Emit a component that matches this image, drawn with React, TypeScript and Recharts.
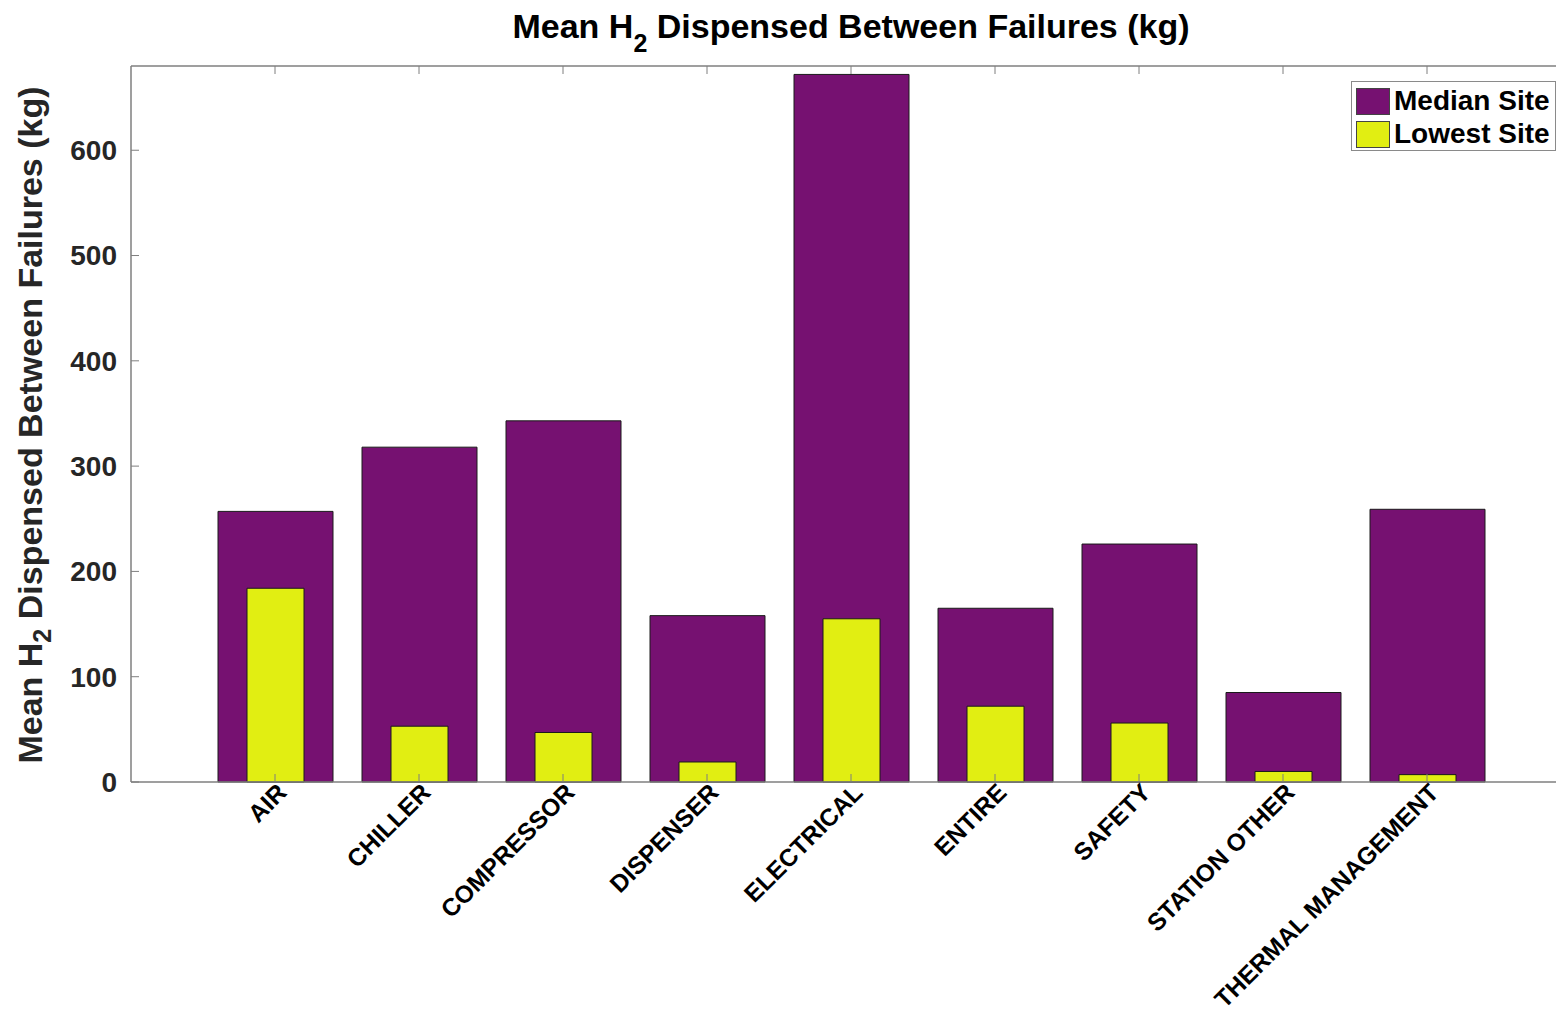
import React from "react";
import { Bar, BarChart, XAxis, YAxis } from "recharts";

const categories = [
  "AIR",
  "CHILLER",
  "COMPRESSOR",
  "DISPENSER",
  "ELECTRICAL",
  "ENTIRE",
  "SAFETY",
  "STATION OTHER",
  "THERMAL MANAGEMENT",
];
const medianSite = [257, 318, 343, 158, 672, 165, 226, 85, 259];
const lowestSite = [184, 53, 47, 19, 155, 72, 56, 10, 7];
const yTicks = [0, 100, 200, 300, 400, 500, 600];

const PURPLE = "#761171";
const YELLOW = "#e1ee12";
const AXIS = "#7f7f7f";
const FONT = "'Liberation Sans', Arial, sans-serif";

const data = categories.map((name, i) => ({
  name,
  median: medianSite[i],
  lowest: lowestSite[i],
}));

const series = [
  { key: "median", label: "Median Site", color: PURPLE },
  { key: "lowest", label: "Lowest Site", color: YELLOW },
];

function XTick(props: any) {
  const { x, y, payload } = props;
  const px = x + 7;
  const py = y - 2;
  return (
    <text
      x={px}
      y={py}
      transform={`rotate(-45 ${px} ${py})`}
      textAnchor="end"
      dy="0.35em"
      fontFamily={FONT}
      fontWeight="bold"
      fontSize={24.5}
      fill="#000"
    >
      {payload.value}
    </text>
  );
}

function YLabel() {
  return (
    <text
      x={30}
      y={425}
      transform="rotate(-90 30 425)"
      textAnchor="middle"
      dominantBaseline="central"
      fontFamily={FONT}
      fontWeight="bold"
      fontSize={34}
      fill="#262626"
    >
      Mean H
      <tspan fontSize={25} dy={12}>
        2
      </tspan>
      <tspan dy={-12}> Dispensed Between Failures (kg)</tspan>
    </text>
  );
}

export default function App() {
  return (
    <div
      style={{
        position: "absolute",
        left: 0,
        top: 0,
        width: 1556,
        height: 1013,
        overflow: "hidden",
        background: "#fff",
        fontFamily: FONT,
      }}
    >
      <div
        style={{
          position: "absolute",
          left: 0,
          width: 1702,
          top: 7,
          textAlign: "center",
          fontSize: 34,
          lineHeight: "38px",
          fontWeight: "bold",
          color: "#000",
          whiteSpace: "nowrap",
        }}
      >
        Mean H<sub style={{ fontSize: 25, verticalAlign: -14, lineHeight: 0 }}>2</sub> Dispensed Between
        Failures (kg)
      </div>
      <BarChart
        width={1580}
        height={1013}
        data={data}
        margin={{ top: 65, right: 9, bottom: 0, left: 0 }}
        barGap={0}
      >
        <XAxis
          xAxisId="top"
          orientation="top"
          dataKey="name"
          padding={{ left: 72, right: 72 }}
          height={1}
          interval={0}
          tickFormatter={() => ""}
          tickSize={-8}
          axisLine={{ stroke: AXIS, strokeWidth: 1.5 }}
          tickLine={{ stroke: AXIS }}
        />
        <XAxis
          xAxisId="median"
          dataKey="name"
          padding={{ left: 72, right: 72 }}
          height={231}
          interval={0}
          tickSize={-8}
          tickMargin={16}
          tick={<XTick />}
          axisLine={{ stroke: AXIS, strokeWidth: 1.5 }}
          tickLine={{ stroke: AXIS }}
        />
        <XAxis xAxisId="lowest" dataKey="name" padding={{ left: 72, right: 72 }} height={0} hide />
        <YAxis
          width={131}
          domain={[0, 680]}
          ticks={yTicks}
          interval={0}
          tickSize={-8}
          tickMargin={22}
          axisLine={{ stroke: AXIS, strokeWidth: 1.5 }}
          tickLine={{ stroke: AXIS }}
          tick={{ fontFamily: FONT, fontWeight: "bold", fontSize: 28, fill: "#262626" }}
          label={<YLabel />}
        />
        <Bar
          xAxisId="median"
          dataKey="median"
          name="Median Site"
          fill={PURPLE}
          stroke="#1a1a1a"
          strokeWidth={1}
          barSize={115}
          isAnimationActive={false}
        />
        <Bar
          xAxisId="lowest"
          dataKey="lowest"
          name="Lowest Site"
          fill={YELLOW}
          stroke="#1a1a1a"
          strokeWidth={1}
          barSize={57}
          isAnimationActive={false}
        />
      </BarChart>
      <div
        style={{
          position: "absolute",
          left: 1351,
          top: 81,
          width: 205,
          height: 70,
          border: "1px solid #8a8a8a",
          background: "#fff",
          boxSizing: "border-box",
          padding: "4px 0 0 4px",
        }}
      >
        {series.map((s) => (
          <div key={s.key} style={{ display: "flex", alignItems: "center", height: 30, marginBottom: 3 }}>
            <div
              style={{
                width: 34,
                height: 27,
                background: s.color,
                border: "1px solid #444",
                boxSizing: "border-box",
                marginRight: 4,
              }}
            />
            <span style={{ fontSize: 28, fontWeight: "bold", color: "#000", lineHeight: "30px" }}>
              {s.label}
            </span>
          </div>
        ))}
      </div>
    </div>
  );
}
